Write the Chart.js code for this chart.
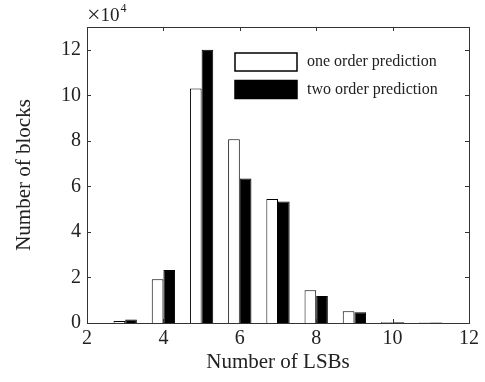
<!DOCTYPE html>
<html>
<head>
<meta charset="utf-8">
<script src="https://cdn.jsdelivr.net/npm/chart.js@4"></script>
<style>
  html, body { margin: 0; padding: 0; background: #fff; }
  #wrap { width: 485px; height: 382px; }
</style>
</head>
<body>
<div id="wrap"><canvas id="lsbChart" width="485" height="382"></canvas></div>
<script>
// number of LSBs (x) and block counts in units of 10^4
let lsbValues = [3, 4, 5, 6, 7, 8, 9, 10, 11];
let oneOrder = [0.09, 1.92, 10.3, 8.07, 5.45, 1.44, 0.52, 0.03, 0.02];
let twoOrder = [0.15, 2.33, 12.0, 6.35, 5.34, 1.19, 0.47, 0.03, 0.02];
let seriesNames = ["one order prediction", "two order prediction"];
let xTicks = [2, 4, 6, 8, 10, 12];
let yTicks = [0, 2, 4, 6, 8, 10, 12];

const axisColor = "#333";
const textColor = "#222";
const serif = "'Liberation Serif', 'Times New Roman', serif";

function toPoints(values) {
    return lsbValues.map((x, i) => ({ x: x, y: values[i] }));
}

// box around plot area with inward ticks on all four sides, like matlab
const boxPlugin = {
    id: "boxTicks",
    afterDatasetsDraw(chart) {
        const ctx = chart.ctx;
        const a = chart.chartArea;
        const xs = chart.scales.x, ys = chart.scales.y;
        const tl = 4;
        ctx.save();
        ctx.strokeStyle = axisColor;
        ctx.lineWidth = 1;
        ctx.strokeRect(Math.round(a.left) + 0.5, Math.round(a.top) + 0.5,
            Math.round(a.right - a.left), Math.round(a.bottom - a.top));
        ctx.beginPath();
        xTicks.forEach(v => {
            const px = Math.round(xs.getPixelForValue(v)) + 0.5;
            ctx.moveTo(px, a.bottom); ctx.lineTo(px, a.bottom - tl);
            ctx.moveTo(px, a.top); ctx.lineTo(px, a.top + tl);
        });
        yTicks.forEach(v => {
            const py = Math.round(ys.getPixelForValue(v)) + 0.5;
            ctx.moveTo(a.left, py); ctx.lineTo(a.left + tl, py);
            ctx.moveTo(a.right, py); ctx.lineTo(a.right - tl, py);
        });
        ctx.stroke();

        // exponent label above the y axis
        ctx.fillStyle = textColor;
        ctx.textBaseline = "alphabetic";
        ctx.textAlign = "left";
        ctx.font = "24px " + serif;
        ctx.fillText("\u00D7", a.left, 22);
        let w = ctx.measureText("\u00D7").width;
        ctx.font = "19px " + serif;
        ctx.fillText("10", a.left + w, 21);
        w += ctx.measureText("10").width;
        ctx.font = "12px " + serif;
        ctx.fillText("4", a.left + w + 1, 12);
        ctx.restore();
    }
};

// legend drawn inside the plot, top right
const legendPlugin = {
    id: "insideLegend",
    afterDraw(chart) {
        const ctx = chart.ctx;
        const a = chart.chartArea;
        const x0 = a.left + 148;
        const y0 = a.top + 26;
        ctx.save();
        chart.data.datasets.forEach((ds, i) => {
            const y = y0 + i * 27.5;
            ctx.fillStyle = ds.backgroundColor;
            ctx.fillRect(x0, y, 62, 18);
            ctx.strokeStyle = "#000";
            ctx.lineWidth = 1.5;
            ctx.strokeRect(x0, y, 62, 18);
            ctx.fillStyle = textColor;
            ctx.font = "16px " + serif;
            ctx.textBaseline = "middle";
            ctx.fillText(ds.label, x0 + 72, y + 9);
        });
        ctx.restore();
    }
};

new Chart(document.getElementById("lsbChart"), {
    type: "bar",
    data: {
        datasets: [
            {
                label: seriesNames[0],
                data: toPoints(oneOrder),
                backgroundColor: "#fff",
                borderColor: "#000",
                borderWidth: 1
            },
            {
                label: seriesNames[1],
                data: toPoints(twoOrder),
                backgroundColor: "#000",
                borderColor: "#000",
                borderWidth: 1
            }
        ]
    },
    options: {
        responsive: false,
        animation: false,
        categoryPercentage: 0.61,
        barPercentage: 1.0,
        layout: { padding: { left: 0, right: 16, top: 27, bottom: 0 } },
        plugins: {
            legend: { display: false },
            tooltip: { enabled: false }
        },
        scales: {
            x: {
                type: "linear",
                min: 2,
                max: 12,
                offset: false,
                afterBuildTicks: (s) => { s.ticks = xTicks.map(v => ({ value: v })); },
                afterFit: (s) => { s.height = 59; },
                grid: { display: false, offset: false, drawTicks: false },
                border: { display: false },
                ticks: {
                    color: textColor,
                    padding: 4,
                    font: { family: serif, size: 20 }
                },
                title: {
                    display: true,
                    text: "Number of LSBs",
                    color: textColor,
                    padding: { top: 0, bottom: 7 },
                    font: { family: serif, size: 21 }
                }
            },
            y: {
                min: 0,
                max: 13,
                afterBuildTicks: (s) => { s.ticks = yTicks.map(v => ({ value: v })); },
                afterFit: (s) => { s.width = 87; },
                grid: { display: false, drawTicks: false },
                border: { display: false },
                ticks: {
                    color: textColor,
                    padding: 6,
                    font: { family: serif, size: 20 }
                },
                title: {
                    display: true,
                    text: "Number of blocks",
                    color: textColor,
                    padding: { top: 12, bottom: 0 },
                    font: { family: serif, size: 21 }
                }
            }
        }
    },
    plugins: [boxPlugin, legendPlugin]
});
</script>
</body>
</html>
